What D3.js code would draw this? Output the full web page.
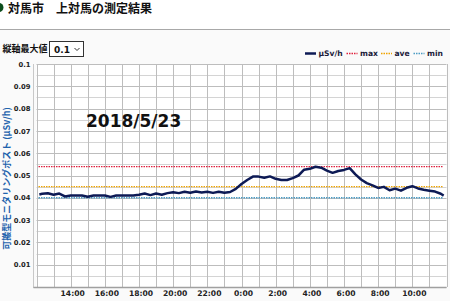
<!DOCTYPE html>
<html><head><meta charset="utf-8">
<script src="https://cdn.jsdelivr.net/npm/d3@7"></script>
<style>
html,body{margin:0;padding:0;background:#fafafa;}
svg{display:block;}
</style></head>
<body>
<svg id="c" width="450" height="301"></svg>
<script>
const title = "対馬市　上対馬の測定結果";
const dateLabel = "2018/5/23";
const yAxisTitle = "可搬型モニタリングポスト (μSv/h)";
const selectLabel = "縦軸最大値";
const selectValue = "0.1";
const legendNames = ["μSv/h", "max", "ave", "min"];
const xTickLabels = ["14:00","16:00","18:00","20:00","22:00","0:00","2:00","4:00","6:00","8:00","10:00"];
const yTickLabels = ["0.01","0.02","0.03","0.04","0.05","0.06","0.07","0.08","0.09","0.1"];
const times = ["12:10","12:20","12:40","13:00","13:20","13:40","14:00","14:20","14:40","15:00","15:20","15:40",
 "16:00","16:20","16:40","17:00","17:20","17:40","18:00","18:20","18:40","19:00","19:20","19:40",
 "20:00","20:20","20:40","21:00","21:20","21:40","22:00","22:20","22:40","23:00","23:20","23:40",
 "0:00","0:20","0:40","1:00","1:20","1:40","2:00","2:20","2:40","3:00","3:20","3:40",
 "4:00","4:20","4:40","5:00","5:20","5:40","6:00","6:20","6:40","7:00","7:20","7:40",
 "8:00","8:20","8:40","9:00","9:20","9:40","10:00","10:20","10:40","11:00","11:20","11:40","11:50"];
const values = [0.0415,0.0418,0.0420,0.0414,0.0419,0.0406,0.0410,0.0410,0.0410,0.0405,0.0410,0.0410,
 0.0410,0.0404,0.0410,0.0410,0.0410,0.0410,0.0414,0.0419,0.0412,0.0419,0.0414,0.0421,
 0.0425,0.0421,0.0427,0.0423,0.0428,0.0424,0.0427,0.0422,0.0427,0.0423,0.0426,0.0440,
 0.0462,0.0480,0.0495,0.0495,0.0490,0.0496,0.0485,0.0480,0.0480,0.0488,0.0500,0.0526,
 0.0530,0.0539,0.0535,0.0522,0.0512,0.0520,0.0525,0.0533,0.0505,0.0482,0.0466,0.0456,
 0.0444,0.0449,0.0434,0.0441,0.0432,0.0445,0.0452,0.0442,0.0436,0.0432,0.0428,0.0418,0.0410];
const maxValue = 0.054, aveValue = 0.045, minValue = 0.040;

const svg = d3.select("#c");
const W = 450, H = 301;
const m = {left: 36.5, right: 446.5, top: 64, bottom: 287};
const t0 = new Date(2018,4,22,12,0), t1 = new Date(2018,4,23,12,0);
function parseT(s){
  const [h,mi] = s.split(":").map(Number);
  return h >= 12 ? new Date(2018,4,22,h,mi) : new Date(2018,4,23,h,mi);
}
const x = d3.scaleTime().domain([t0,t1]).range([m.left,m.right]);
const y = d3.scaleLinear().domain([0,0.1]).range([m.bottom,m.top]);
const CJK = "'Noto Sans CJK JP','Noto Sans',sans-serif";
const DV = "'DejaVu Sans',Verdana,sans-serif";

// header
svg.append("rect").attr("x",0).attr("y",0).attr("width",W).attr("height",29).attr("fill","#ffffff");
svg.append("circle").attr("cx",-1).attr("cy",7.5).attr("r",4.5).attr("fill","#0b4d1c");
svg.append("text").attr("x",8).attr("y",13).attr("font-family",CJK).attr("font-weight","bold")
  .attr("font-size",12).attr("fill","#111").text(title);
svg.append("line").attr("x1",0).attr("x2",W).attr("y1",29.5).attr("y2",29.5).attr("stroke","#a8a8a8").attr("stroke-width",1.2);

// select
svg.append("text").attr("x",2.5).attr("y",51.5).attr("font-family",CJK).attr("font-weight","bold")
  .attr("font-size",9).attr("fill","#111").text(selectLabel);
svg.append("rect").attr("x",49.5).attr("y",41.5).attr("width",34).attr("height",15).attr("fill","#fff")
  .attr("stroke","#333").attr("stroke-width",1);
svg.append("text").attr("x",54).attr("y",53).attr("font-family",DV).attr("font-weight","bold")
  .attr("font-size",9).attr("fill","#111").text(selectValue);
svg.append("path").attr("d","M74.5,48 L77,50.5 L79.5,48").attr("fill","none").attr("stroke","#333").attr("stroke-width",1);

// plot bg
svg.append("rect").attr("x",m.left).attr("y",m.top).attr("width",m.right-m.left).attr("height",m.bottom-m.top).attr("fill","#fff");

// grid
const hTicks = d3.range(0,21).map(i=>i*0.005);
svg.append("g").selectAll("line").data(hTicks).join("line")
  .attr("x1",m.left).attr("x2",m.right)
  .attr("y1",d=>Math.round(y(d))+0.5).attr("y2",d=>Math.round(y(d))+0.5)
  .attr("stroke",(d,i)=> i%2===0 ? "#bdbdbd" : "#d4d4d4").attr("stroke-width",1);
const vTicks = d3.timeHour.range(t0, d3.timeHour.offset(t1,1));
svg.append("g").selectAll("line").data(vTicks).join("line")
  .attr("y1",m.top).attr("y2",m.bottom)
  .attr("x1",d=>Math.round(x(d))+0.5).attr("x2",d=>Math.round(x(d))+0.5)
  .attr("stroke","#bdbdbd").attr("stroke-width",1);
// axis lines
svg.append("line").attr("x1",m.left-3).attr("x2",m.left-3).attr("y1",m.top).attr("y2",m.bottom+1).attr("stroke","#c8c8c8");
svg.append("line").attr("x1",m.left-3).attr("x2",m.right).attr("y1",m.bottom+0.5).attr("y2",m.bottom+0.5).attr("stroke","#a0a0a0").attr("stroke-width",1.5);

// y ticks
const yAxis = d3.axisLeft(y).tickValues(yTickLabels.map(Number)).tickFormat((d,i)=>yTickLabels[i]).tickSize(0).tickPadding(0);
const ya = svg.append("g").attr("transform",`translate(${m.left-6},0)`).call(yAxis);
ya.select(".domain").remove();
ya.selectAll("text").attr("font-family",DV).attr("font-weight","bold").attr("font-size",6.8).attr("fill","#222");

// x ticks
const xTickDates = xTickLabels.map(parseT);
const xAxis = d3.axisBottom(x).tickValues(xTickDates).tickFormat((d,i)=>xTickLabels[i]).tickSize(0).tickPadding(0);
const xa = svg.append("g").attr("transform",`translate(1.5,${m.bottom+4})`).call(xAxis);
xa.select(".domain").remove();
xa.selectAll("text").attr("font-family",DV).attr("font-weight","bold").attr("font-size",7.6).attr("fill","#222");

// y title
svg.append("text").attr("transform",`translate(10,${(m.top+m.bottom)/2+3}) rotate(-90)`)
  .attr("text-anchor","middle").attr("font-family",CJK).attr("font-weight","bold")
  .attr("font-size",9).attr("fill","#1f63ad").text(yAxisTitle);

// reference lines
const refs = [{v:maxValue,c:"#e0203c"},{v:aveValue,c:"#f0a400"},{v:minValue,c:"#4c9cc4"}];
svg.append("g").selectAll("line").data(refs).join("line")
  .attr("x1",m.left+2).attr("x2",m.right-4)
  .attr("y1",d=>y(d.v)).attr("y2",d=>y(d.v))
  .attr("stroke",d=>d.c).attr("stroke-width",1.4).attr("stroke-dasharray","1.5,1");

// data line
const data = times.map((t,i)=>({t:parseT(t),v:values[i]}));
svg.append("path").datum(data).attr("fill","none").attr("stroke","#0d1a55").attr("stroke-width",2.5)
  .attr("stroke-linejoin","round")
  .attr("d",d3.line().x(d=>x(d.t)).y(d=>y(d.v)));

// date label
svg.append("text").attr("x",86).attr("y",127).attr("font-family",DV).attr("font-weight","bold")
  .attr("font-size",17).attr("fill","#111").text(dateLabel);

// legend
const legendColors = ["#0d1a55","#e0203c","#f0a400","#4c9cc4"];
const legX = [305, 346.5, 381, 413.5];
const lg = svg.append("g");
legendNames.forEach((n,i)=>{
  lg.append("line").attr("x1",legX[i]).attr("x2",legX[i]+11).attr("y1",53.5).attr("y2",53.5)
    .attr("stroke",legendColors[i]).attr("stroke-width",i===0?2.5:1.4)
    .attr("stroke-dasharray",i===0?null:"1.5,1");
  lg.append("text").attr("x",legX[i]+13.5).attr("y",56).attr("font-family",DV).attr("font-weight","bold")
    .attr("font-size",7.6).attr("fill","#1a1a3a").text(n);
});
</script>
</body></html>
